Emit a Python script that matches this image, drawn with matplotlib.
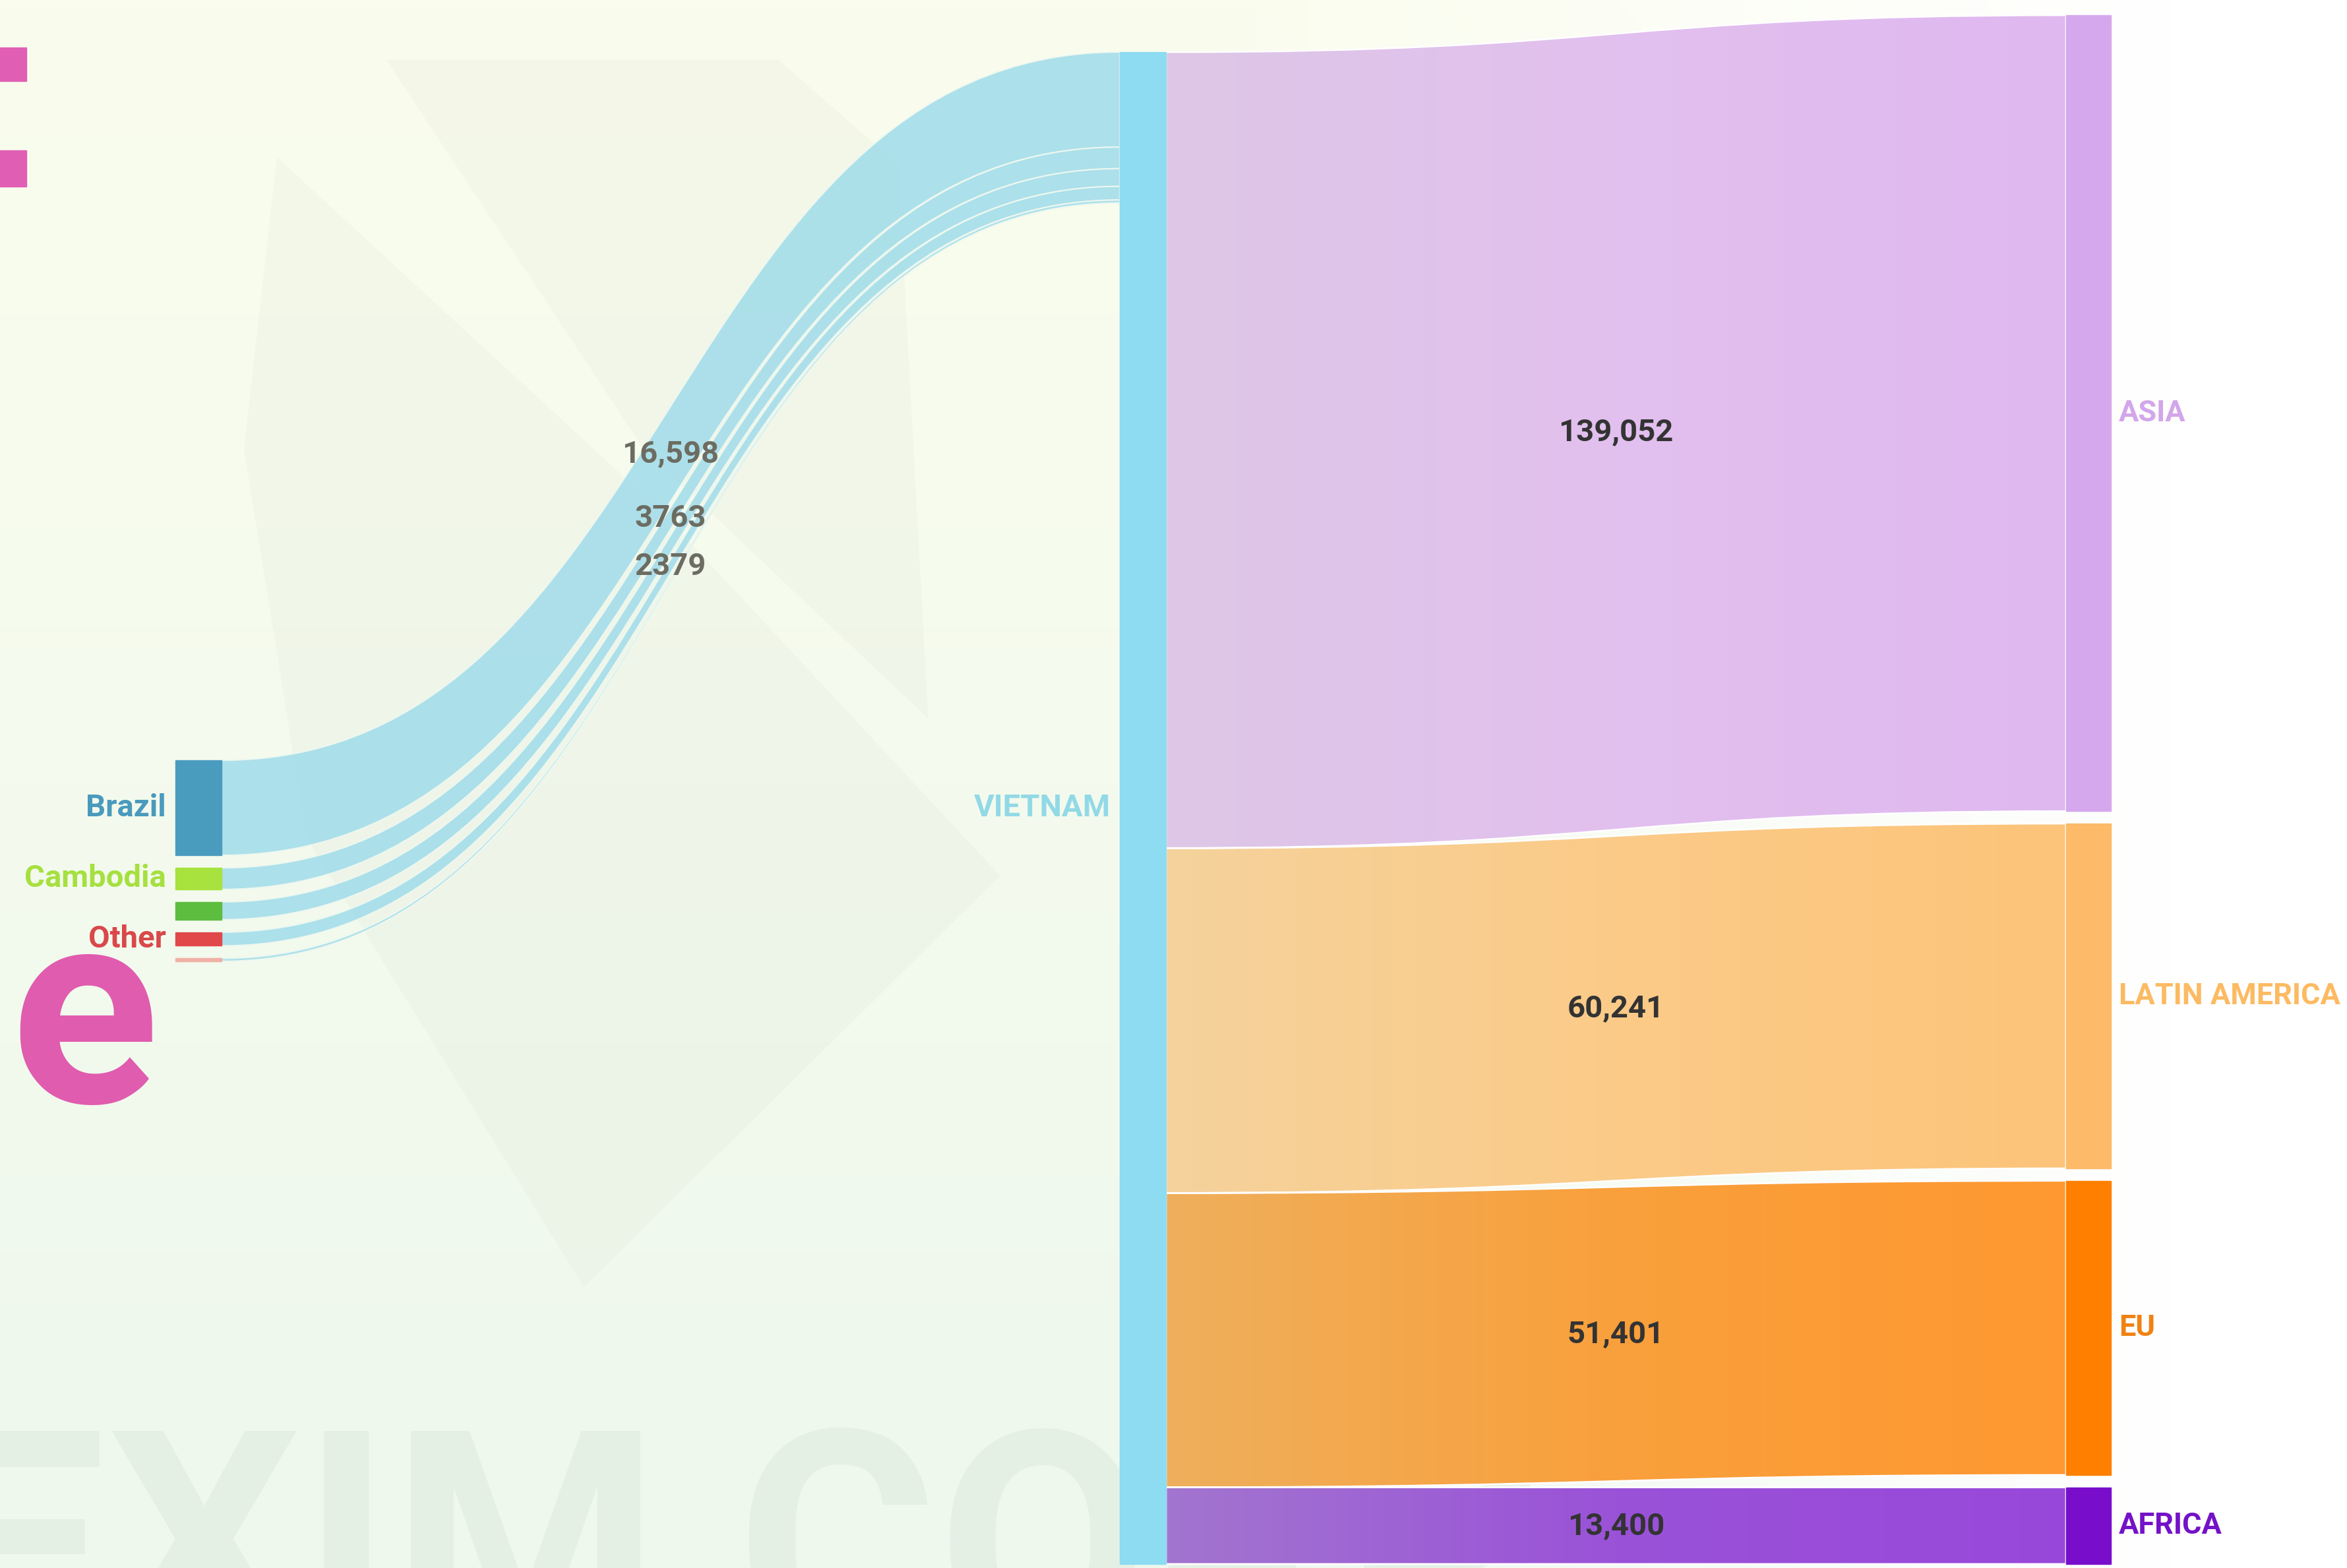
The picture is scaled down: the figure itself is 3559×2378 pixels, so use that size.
"""
Sankey of Vietnam cashew flows: origins -> VIETNAM -> export regions.
"""

import numpy as np
import matplotlib
matplotlib.use("Agg")
import matplotlib.pyplot as plt
from matplotlib.path import Path
from matplotlib.patches import PathPatch, Rectangle, Polygon
from matplotlib.colors import LinearSegmentedColormap

""" ------------------- Data ------------------- """

# origins flowing into Vietnam (top to bottom)
source_labels = ["Brazil", "Cambodia", "", "Other", ""]
source_values = [16598, 3763, 3100, 2379, 520]
source_flow_text = ["16,598", "3763", "", "2379", ""]
source_colors = ["#4A9CBF", "#A7E23E", "#5CBD3F", "#E0484A", "#F1B0A6"]
source_label_colors = ["#4A9ABD", "#A6E040", "#5CBD3F", "#D9484A", "#F1B0A6"]

hub_label = "VIETNAM"

# export regions (top to bottom)
dest_labels = ["ASIA", "LATIN AMERICA", "EU", "AFRICA"]
dest_values = [139052, 60241, 51401, 13400]
dest_colors = ["#D5A8EE", "#FDBA68", "#FF8000", "#780ECC"]
dest_label_colors = ["#D3A6EA", "#FCBA62", "#F08212", "#7412C8"]
dest_flow_colors = [
    ["#DDC7E6", "#E2C0EE", "#DFB8F0"],
    ["#F5D29C", "#FBCB88", "#FDC47A"],
    ["#EFAF5C", "#F9A03C", "#FF9830"],
    ["#A275CF", "#9A52D8", "#9848DA"],
]

""" ------------------- Layout (pixels) ------------------- """

W, H = 3559, 2378
hub_top, hub_bottom = 79, 2372
scale = (hub_bottom - hub_top) / sum(dest_values)

left_x0, left_x1 = 266, 336
hub_x0, hub_x1 = 1698, 1768
right_x0, right_x1 = 3133, 3201
left_top, left_gap = 1153, 19
right_top = 23
right_gap = (hub_bottom - right_top - (hub_bottom - hub_top)) / (len(dest_values) - 1)

FONT = ["Roboto", "DejaVu Sans"]
FS = 34
FS_RIGHT = 32.5

""" ------------------- Functions ------------------- """

def band_path(x0, x1, y0a, y0b, y1a, y1b):
  xm = (x0 + x1) / 2
  verts = [(x0, y0a), (xm, y0a), (xm, y1a), (x1, y1a),
           (x1, y1b), (xm, y1b), (xm, y0b), (x0, y0b), (x0, y0a)]
  codes = [Path.MOVETO, Path.CURVE4, Path.CURVE4, Path.CURVE4,
           Path.LINETO, Path.CURVE4, Path.CURVE4, Path.CURVE4, Path.CLOSEPOLY]
  return Path(verts, codes)

def gradient_band(ax, path, x0, x1, colors, z=3):
  cmap = LinearSegmentedColormap.from_list("g", colors)
  ys = path.vertices[:, 1]
  im = ax.imshow(np.linspace(0, 1, 256).reshape(1, -1), cmap=cmap, aspect="auto",
                 extent=[x0, x1, ys.max(), ys.min()], zorder=z, interpolation="bilinear")
  patch = PathPatch(path, facecolor="none", edgecolor="white", lw=2, zorder=z + 0.1)
  ax.add_patch(patch)
  im.set_clip_path(patch)

def stack(values, top, gap):
  pos = []
  y = top
  for v in values:
    h = v * scale
    pos.append((y, y + h))
    y += h + gap
  return pos

""" ------------------- Figure ------------------- """

plt.rcParams["font.family"] = FONT
fig = plt.figure(figsize=(W / 100, H / 100), dpi=100)
ax = fig.add_axes([0, 0, 1, 1])

# pale background fading to white on the right
gx = np.clip((np.linspace(0, W, 400) - 1900) / 1400, 0, 1)[None, :, None]
gy = np.linspace(0, 1, 200)[:, None, None]
top_c = np.array([250, 253, 238]) / 255
bot_c = np.array([238, 248, 237]) / 255
pale = top_c * (1 - gy) + bot_c * gy
bg = pale * (1 - gx) + np.ones(3) * gx
ax.imshow(bg, extent=[0, W, H, 0], aspect="auto", zorder=0)

# faint watermark logo
k = 2.27
for pts in ([(185, 105), (440, 340), (668, 585), (390, 860), (205, 560), (163, 300)],
            [(258, 40), (520, 40), (600, 110), (620, 480), (430, 300)]):
  ax.add_patch(Polygon([(x * k, y * k) for x, y in pts], closed=True,
                       facecolor="#C9D0BE", edgecolor="none", alpha=0.1, zorder=0.5))
ax.text(-100, 2500, "EXIM CORP", fontsize=335, fontweight="bold", color="#E4EFE4",
        alpha=0.85, ha="left", va="baseline", zorder=0.6)

# pink logo fragments
ax.add_patch(Rectangle((0, 72), 40, 51, color="#E05FB5", zorder=0.7))
ax.add_patch(Rectangle((0, 228), 40, 55, color="#E05FB5", zorder=0.7))
ax.text(128, 1672, "e", fontsize=300, fontweight="bold", color="#E05CAE",
        ha="center", va="baseline", zorder=0.7)

# left nodes and flows into the hub
src_pos = stack(source_values, left_top, left_gap)
y_in = hub_top
for i, v in enumerate(source_values):
  y0a, y0b = src_pos[i]
  y1a, y1b = y_in, y_in + v * scale
  y_in = y1b
  path = band_path(left_x1, hub_x0, y0a, y0b, y1a, y1b)
  ax.add_patch(PathPatch(path, facecolor="#A6DEEA", edgecolor="#EEF8F0", lw=1.5,
                         alpha=0.92, zorder=2))
  ax.add_patch(Rectangle((left_x0, y0a), left_x1 - left_x0, y0b - y0a,
                         color=source_colors[i], zorder=4))
  if source_labels[i]:
    ax.text(left_x0 - 14, (y0a + y0b) / 2, source_labels[i], fontsize=FS,
            fontweight="bold", color=source_label_colors[i], ha="right", va="center", zorder=5)
  if source_flow_text[i]:
    ax.text((left_x1 + hub_x0) / 2, (y0a + y0b + y1a + y1b) / 4, source_flow_text[i],
            fontsize=FS, fontweight="bold", color="#6C6C62", ha="center", va="center", zorder=5)

# hub node
ax.add_patch(Rectangle((hub_x0, hub_top), hub_x1 - hub_x0, hub_bottom - hub_top,
                       color="#8DDCF1", zorder=4))
ax.text(hub_x0 - 14, (hub_top + hub_bottom) / 2, hub_label, fontsize=FS, fontweight="bold",
        color="#92D9E6", ha="right", va="center", zorder=5)

# flows out of the hub and right nodes
dst_pos = stack(dest_values, right_top, right_gap)
y_out = hub_top
for i, v in enumerate(dest_values):
  y0a, y0b = y_out, y_out + v * scale
  y_out = y0b
  y1a, y1b = dst_pos[i]
  path = band_path(hub_x1, right_x0, y0a, y0b, y1a, y1b)
  gradient_band(ax, path, hub_x1, right_x0, dest_flow_colors[i])
  ax.add_patch(Rectangle((right_x0, y1a), right_x1 - right_x0, y1b - y1a,
                         color=dest_colors[i], zorder=4))
  ax.text(right_x1 + 12, (y1a + y1b) / 2, dest_labels[i], fontsize=FS_RIGHT, fontweight="bold",
          color=dest_label_colors[i], ha="left", va="center", zorder=5)
  ax.text((hub_x1 + right_x0) / 2, (y0a + y0b + y1a + y1b) / 4, f"{v:,}", fontsize=FS,
          fontweight="bold", color="#333333", ha="center", va="center", zorder=5)

ax.set_xlim(0, W)
ax.set_ylim(H, 0)
ax.axis("off")

fig.savefig("out.png", dpi=100)
